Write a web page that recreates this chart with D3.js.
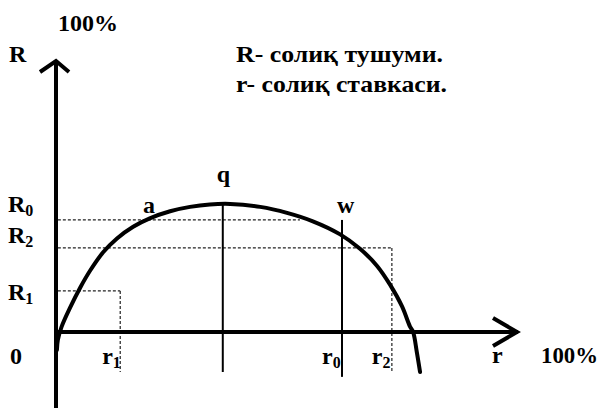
<!DOCTYPE html>
<html>
<head>
<meta charset="utf-8">
<script src="https://cdn.jsdelivr.net/npm/d3@7"></script>
<style>
  body { margin: 0; background: #fff; }
</style>
</head>
<body>
<svg id="chart" width="601" height="408"></svg>
<script>
// Laffer curve: tax rate r (%) vs tax revenue R (%)
var curveRate = [0.2, 0.4, 1.2, 3.0, 5.2, 7.4, 10.2, 13.2, 16.7, 20.3, 24.7, 29.0, 33.3, 37.7, 44.2, 50.0, 55.6, 61.5, 65.8, 69.5, 72.3, 74.9, 76.6, 77.3, 78.1, 78.8];
var curveRevenue = [-6.6, -2.9, 1.9, 8.8, 16.2, 22.6, 29.3, 34.4, 38.7, 41.8, 44.4, 46.0, 46.9, 47.1, 46.0, 43.8, 40.7, 35.9, 30.6, 24.3, 17.4, 9.4, 2.1, 0, -7.4, -14.7];

// marked levels on the revenue axis
var levelNames = ["R0", "R2", "R1"];
var levelValues = [41.2, 30.9, 15.1];
// where each level's dotted guide stops (rate)
var levelEnds = [52.8, 72.7, 13.9];

// marked rates
var rateNames = ["r1", "r0", "r2"];
var rateValues = [13.9, 61.9, 72.7];

var qRate = 36.1, qRevenue = 47.1;
var legendLines = ["R- солиқ тушуми.", "r- солиқ ставкаси."];

var svg = d3.select("#chart");
var font = "'Liberation Serif', 'DejaVu Serif', serif";

var x = d3.scaleLinear().domain([0, 100]).range([56, 518]);
var y = d3.scaleLinear().domain([0, 100]).range([332, 60]);

// dotted guides
var dots = svg.append("g").attr("stroke", "#222").attr("stroke-width", 1.2)
    .attr("stroke-dasharray", "3,2").attr("fill", "none");
levelValues.forEach(function(v, i) {
    dots.append("line")
        .attr("x1", x(0.4)).attr("x2", x(levelEnds[i]))
        .attr("y1", y(v)).attr("y2", y(v));
});
// r1 and r2 dotted verticals
[0, 2].forEach(function(i) {
    var top = i == 0 ? levelValues[2] : levelValues[1];
    dots.append("line")
        .attr("x1", x(rateValues[i])).attr("x2", x(rateValues[i]))
        .attr("y1", y(top)).attr("y2", y(-14.7));
});

// q and w solid verticals
svg.append("line")
    .attr("x1", x(qRate)).attr("x2", x(qRate))
    .attr("y1", y(qRevenue)).attr("y2", y(-14.7))
    .attr("stroke", "#000").attr("stroke-width", 2);
svg.append("line")
    .attr("x1", x(rateValues[1])).attr("x2", x(rateValues[1]))
    .attr("y1", y(levelValues[0])).attr("y2", y(-16.5))
    .attr("stroke", "#000").attr("stroke-width", 2);

// axes
var axes = svg.append("g").attr("stroke", "#000").attr("fill", "none")
    .attr("stroke-width", 4).attr("stroke-linecap", "butt");
axes.append("line").attr("x1", x(0)).attr("x2", x(0)).attr("y1", y(100)).attr("y2", 408);
axes.append("line").attr("x1", x(0)).attr("x2", x(100)).attr("y1", y(0)).attr("y2", y(0));
axes.append("path").attr("stroke-linejoin", "miter")
    .attr("d", "M" + (x(0) - 16) + "," + (y(100) + 12) + "L" + x(0) + "," + (y(100) + 1) + "L" + (x(0) + 13) + "," + (y(100) + 12));
axes.append("path").attr("stroke-linejoin", "miter")
    .attr("d", "M" + (x(100) - 25) + "," + (y(0) - 14) + "L" + (x(100) - 1) + "," + y(0) + "L" + (x(100) - 25) + "," + (y(0) + 14));

// curve
var line = d3.line()
    .x(function(d) { return x(d[0]); })
    .y(function(d) { return y(d[1]); })
    .curve(d3.curveCatmullRom.alpha(0.5));
svg.append("path")
    .datum(d3.zip(curveRate, curveRevenue))
    .attr("d", line)
    .attr("fill", "none").attr("stroke", "#000").attr("stroke-width", 4)
    .attr("stroke-linecap", "round");

// text
function label(px, py, size) {
    return svg.append("text").attr("x", px).attr("y", py)
        .attr("font-family", font).attr("font-weight", "bold")
        .attr("font-size", size).attr("fill", "#000");
}
function sub(sel, main, s) {
    sel.append("tspan").text(main);
    sel.append("tspan").attr("font-size", 16).attr("dy", 4).text(s);
}
var fs = 24;
label(58, 31, fs).attr("textLength", 60).attr("lengthAdjust", "spacingAndGlyphs").text("100%");
label(9, 62, fs).text("R");
legendLines.forEach(function(t, i) {
    label(236, 62 + i * 30, 23)
        .attr("textLength", i == 0 ? 207 : 211).attr("lengthAdjust", "spacingAndGlyphs").text(t);
});
var levelDy = [-8, -5, 9];
levelNames.forEach(function(n, i) {
    sub(label(8, y(levelValues[i]) + levelDy[i], fs), n[0], n[1]);
});
label(10, 364, fs).text("0");
var rateDx = [-18, -20, -20];
rateNames.forEach(function(n, i) {
    sub(label(x(rateValues[i]) + rateDx[i], 364, fs), n[0], n[1]);
});
label(x(qRate) - 6, 182, fs).text("q");
label(143, 213, fs).text("a");
label(337, 213, fs).text("w");
label(492, 363, fs).text("r");
label(541, 363, fs).attr("textLength", 57).attr("lengthAdjust", "spacingAndGlyphs").text("100%");
</script>
</body>
</html>
